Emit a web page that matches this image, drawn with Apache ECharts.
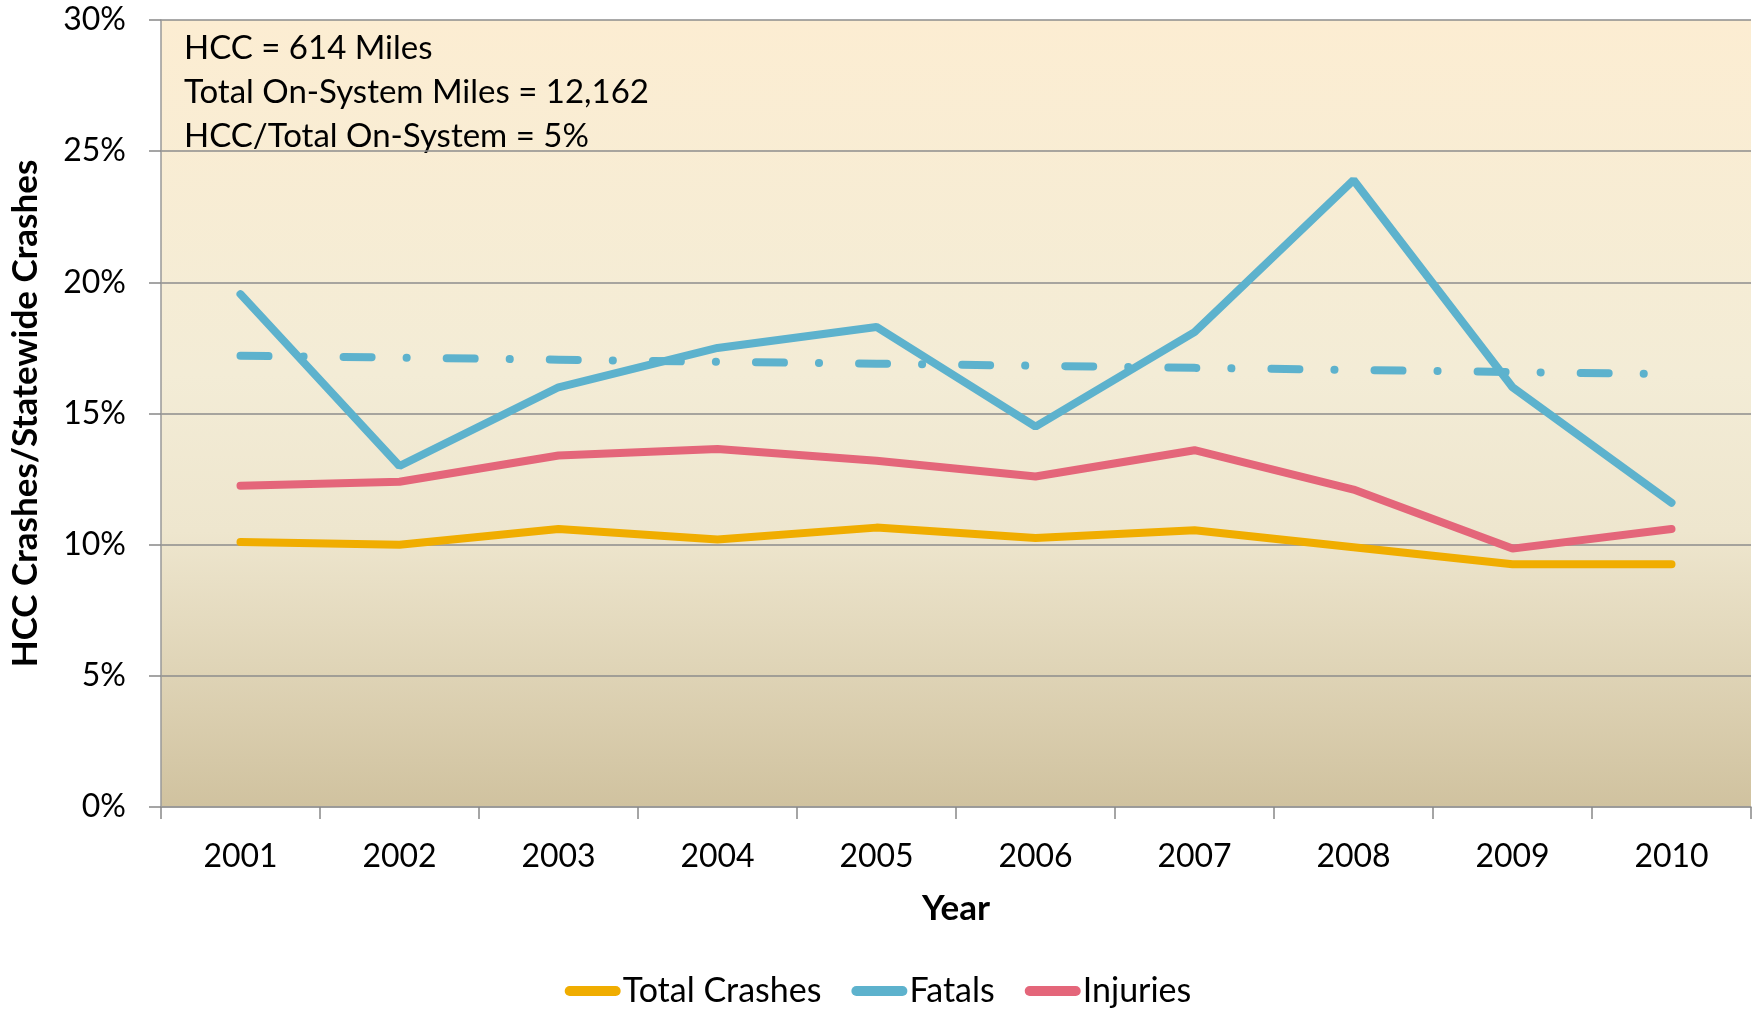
<!DOCTYPE html>
<html>
<head>
<meta charset="utf-8">
<script src="https://cdn.jsdelivr.net/npm/echarts@6/dist/echarts.min.js"></script>
<style>
  html, body { margin: 0; padding: 0; background: #fff; }
  #chart { width: 1756px; height: 1013px; }
</style>
</head>
<body>
<div id="chart"></div>
<script>
// data (percent of statewide crashes)
const years = ['2001', '2002', '2003', '2004', '2005', '2006', '2007', '2008', '2009', '2010']
const totalCrashes = [10.1, 10.0, 10.6, 10.2, 10.65, 10.25, 10.55, 9.9, 9.25, 9.25]
const fatals = [19.55, 13.0, 16.0, 17.5, 18.3, 14.5, 18.1, 23.9, 16.0, 11.6]
const injuries = [12.25, 12.4, 13.4, 13.65, 13.2, 12.6, 13.6, 12.1, 9.85, 10.6]
const fatalsTrend = [17.2, 17.13, 17.05, 16.97, 16.9, 16.82, 16.74, 16.66, 16.58, 16.5]
const notes = ['HCC = 614 Miles', 'Total On-System Miles = 12,162', 'HCC/Total On-System = 5%']

const FONT = 'Lato'
const colors = { total: '#F0AD00', fatal: '#5DB2CD', injury: '#E4667A' }

const chart = echarts.init(document.getElementById('chart'))

const pill = 'path://M5,0 L51,0 A5,5 0 0 1 51,10 L5,10 A5,5 0 0 1 5,0 Z'

const option = {
  backgroundColor: '#fff',
  textStyle: { fontFamily: FONT },
  grid: {
    left: 160, right: 5, top: 20, bottom: 206,
    show: true,
    borderWidth: 0,
    backgroundColor: {
      type: 'linear', x: 0, y: 0, x2: 0, y2: 1,
      colorStops: [
        { offset: 0, color: '#FCEDD2' },
        { offset: 0.45, color: '#F3ECD6' },
        { offset: 0.65, color: '#EEE6CE' },
        { offset: 1, color: '#D0C29F' }
      ]
    }
  },
  legend: {
    bottom: 0,
    left: 'center',
    data: ['Total Crashes', 'Fatals', 'Injuries'],
    icon: pill,
    itemWidth: 56,
    itemHeight: 10,
    itemGap: 30,
    textStyle: { fontFamily: FONT, fontSize: 34, color: '#000', padding: [0, 0, 0, -3] }
  },
  xAxis: {
    type: 'category',
    data: years,
    boundaryGap: true,
    name: 'Year',
    nameLocation: 'middle',
    nameGap: 84,
    nameTextStyle: { fontFamily: FONT, fontSize: 35, fontWeight: 'bold', color: '#000' },
    axisLine: { lineStyle: { color: '#999', width: 1.5 } },
    axisTick: { show: true, length: 12, lineStyle: { color: '#888', width: 1.5 } },
    axisLabel: { fontFamily: FONT, fontSize: 32, color: '#000', margin: 34 },
    splitLine: { show: false }
  },
  yAxis: {
    type: 'value',
    min: 0, max: 30, interval: 5,
    name: 'HCC Crashes/Statewide Crashes',
    nameLocation: 'middle',
    nameGap: 118,
    nameTextStyle: { fontFamily: FONT, fontSize: 35, fontWeight: 'bold', color: '#000' },
    axisLine: { show: true, lineStyle: { color: '#999', width: 1.5 } },
    axisTick: { show: true, length: 12, lineStyle: { color: '#888', width: 1.5 } },
    axisLabel: { fontFamily: FONT, fontSize: 32, color: '#000', margin: 35, formatter: '{value}%' },
    splitLine: { show: true, lineStyle: { color: '#8C8C8C', width: 1.5 } }
  },
  graphic: notes.map((t, i) => ({
    type: 'text',
    left: 184,
    top: 32 + i * 44,
    style: { text: t, fontFamily: FONT, fontSize: 33, fill: '#000' }
  })),
  series: [
    {
      name: 'Fatals Trend',
      type: 'line',
      data: fatalsTrend,
      symbol: 'none',
      silent: true,
      lineStyle: { color: colors.fatal, width: 8, type: [28, 35, 0.1, 40], cap: 'round' },
      z: 1
    },
    {
      name: 'Total Crashes',
      type: 'line',
      data: totalCrashes,
      symbol: 'none',
      itemStyle: { color: colors.total },
      lineStyle: { color: colors.total, width: 8, cap: 'round' },
      z: 2
    },
    {
      name: 'Fatals',
      type: 'line',
      data: fatals,
      symbol: 'none',
      itemStyle: { color: colors.fatal },
      lineStyle: { color: colors.fatal, width: 8, cap: 'round' },
      z: 2
    },
    {
      name: 'Injuries',
      type: 'line',
      data: injuries,
      symbol: 'none',
      itemStyle: { color: colors.injury },
      lineStyle: { color: colors.injury, width: 8, cap: 'round' },
      z: 2
    }
  ]
}

chart.setOption(option)
</script>
</body>
</html>
